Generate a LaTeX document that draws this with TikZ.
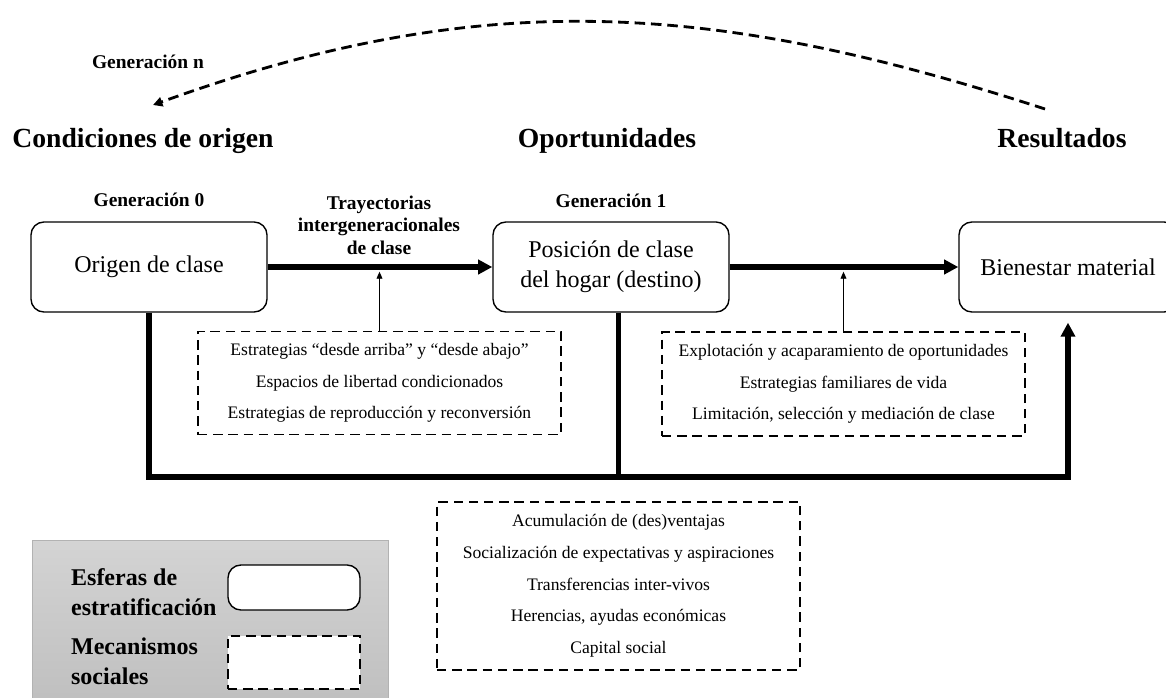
\documentclass[tikz,border=0pt]{standalone}
\usepackage{fontspec}
\setmainfont{Liberation Serif}
\usetikzlibrary{positioning,arrows.meta,calc}

\tikzset{
    esfera/.style={draw, rounded corners=11pt, line width=1.2pt, minimum width=7.08cm, minimum height=2.7cm, align=center, font=\fontsize{20.5}{25.6}\selectfont},
    mecanismo/.style={draw, dash pattern=on 8pt off 5pt, line width=1.1pt, minimum width=10.89cm, align=center, font=\fontsize{15}{27.1}\selectfont},
    titulo/.style={font=\bfseries\fontsize{23.6}{28}\selectfont, anchor=base},
    etiqueta/.style={font=\bfseries\fontsize{16.6}{19.2}\selectfont, align=center},
    leyenda/.style={font=\bfseries\fontsize{20.5}{25.6}\selectfont, align=left, anchor=west},
    grueso/.style={line width=4.3pt},
    punta/.style={-{Triangle[length=12pt,width=12pt]}},
    fino/.style={line width=0.8pt, -{Triangle[length=6pt,width=5pt]}, shorten >=4pt},
    arco/.style={line width=2.4pt, dash pattern=on 9pt off 5pt, -{Triangle[length=8pt,width=8pt]}}
}

\begin{document}
\begin{tikzpicture}[x=0.03cm,y=-0.03cm]
    \useasboundingbox (0,0) rectangle (1166,698);
    \clip (0,0) rectangle (1166,698);
    \shadedraw[top color=gray!34, bottom color=gray!50, draw=gray!60, line width=0.6pt] (32,540) rectangle (388,702);
    \node[leyenda] at (67,592) (ley1) {Esferas de\\estratificación};
    \node[leyenda] at (67,661) (ley2) {Mecanismos\\sociales};
    \node[esfera, fill=white, minimum width=3.96cm, minimum height=1.35cm] at (294,587.5) (ley-esf) {};
    \node[mecanismo, fill=white, minimum width=3.96cm, minimum height=1.59cm] at (294,662.5) (ley-mec) {};
    \node[etiqueta, anchor=base] at (148,68) (gen-n) {Generación n};
    \node[titulo] at (143,147) (condiciones) {Condiciones de origen};
    \node[titulo] at (607,147) (oportunidades) {Oportunidades};
    \node[titulo] at (1062,147) (resultados) {Resultados};
    \node[etiqueta, anchor=base] at (149,206) (gen0) {Generación 0};
    \node[etiqueta, anchor=base] at (611,207) (gen1) {Generación 1};
    \node[etiqueta] at (379,225) (trayect) {Trayectorias\\intergeneracionales\\de clase};
    \node[esfera] at (149,267) (origen) {Origen de clase};
    \node[esfera] at (611,267) (posicion) {Posición de clase\\del hogar (destino)};
    \node[esfera, minimum width=6.54cm] at (1068,267) (bienestar) {Bienestar material};
    \node[mecanismo, minimum height=3.09cm] at (379.5,383) (mec1) {Estrategias “desde arriba” y “desde abajo”\\Espacios de libertad condicionados\\Estrategias de reproducción y reconversión};
    \node[mecanismo, minimum height=3.12cm] at (843.5,384) (mec2) {Explotación y acaparamiento de oportunidades\\Estrategias familiares de vida\\Limitación, selección y mediación de clase};
    \node[mecanismo, minimum height=5.04cm] at (618.5,586) (mec3) {Acumulación de (des)ventajas\\Socialización de expectativas y aspiraciones\\Transferencias inter-vivos\\Herencias, ayudas económicas\\Capital social};
    \coordinate (arc-ini) at (1045,109);
    \coordinate (arc-fin) at (153,105);
    \coordinate (esq) at (1068,477);
    \draw[arco] (arc-ini) .. controls (713,1) and (481,-14) .. (arc-fin);
    \draw[grueso,punta] (origen) -- (posicion);
    \draw[grueso,punta] (posicion) -- (bienestar);
    \draw[fino] (mec1.north) -- (mec1.north |- origen.east);
    \draw[fino] (mec2.north) -- (mec2.north |- posicion.east);
    \draw[grueso,punta,shorten >=8.5pt] (origen.south) |- (esq) -- (bienestar.south);
    \draw[grueso] (mec3 |- posicion.south) -- (mec3 |- esq);
\end{tikzpicture}
\end{document}
